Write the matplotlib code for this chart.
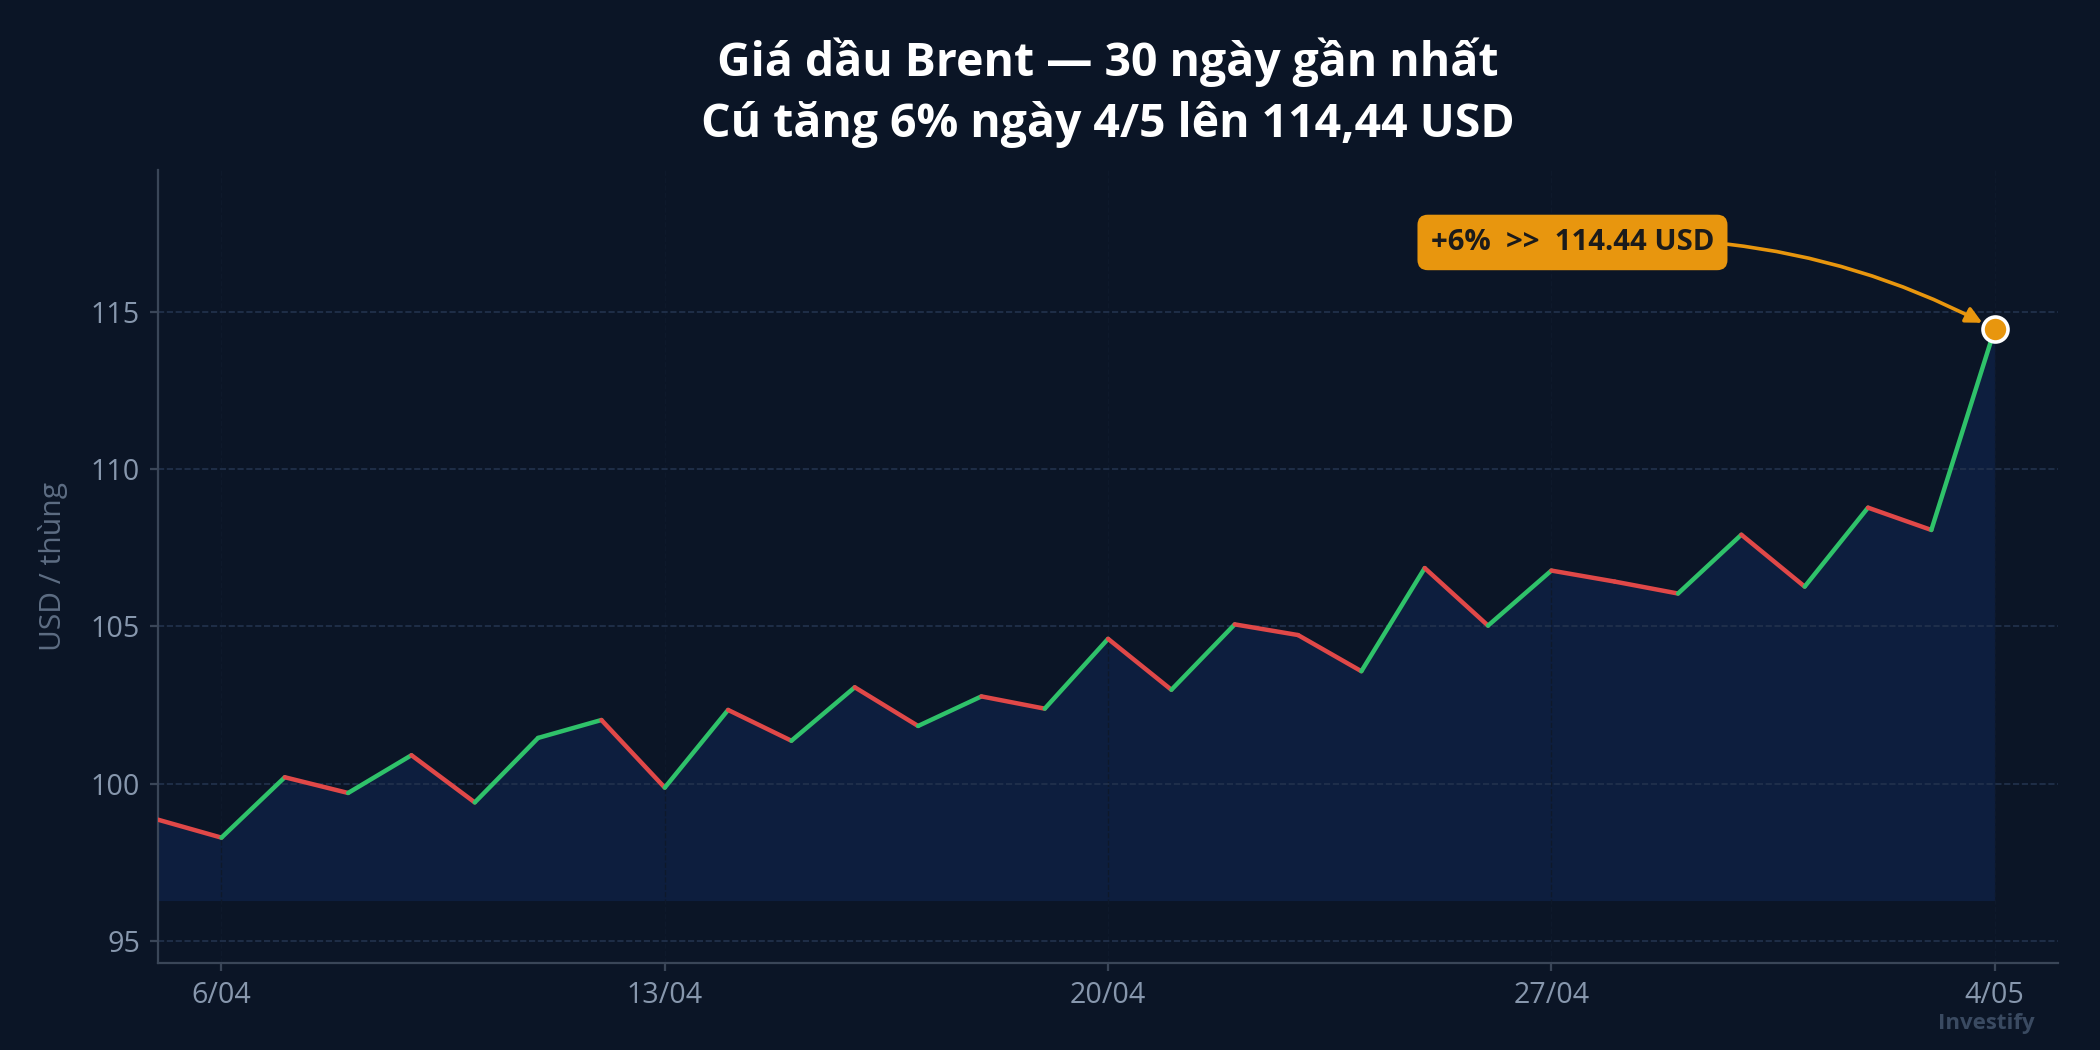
import numpy as np
import pandas as pd
import matplotlib
matplotlib.use("Agg")
import matplotlib.pyplot as plt

plt.rcParams['font.family'] = ['Open Sans', 'Noto Sans', 'DejaVu Sans']

# Brent close, 5/04 .. 4/05
dates = pd.date_range("2025-04-05", "2025-05-04", freq="D")
prices = [98.85, 98.28, 100.20, 99.70, 100.90, 99.40, 101.45, 102.02, 99.87, 102.34,
          101.36, 103.06, 101.83, 102.77, 102.38, 104.60, 102.98, 105.06, 104.72, 103.57,
          106.85, 105.02, 106.77, 106.42, 106.04, 107.91, 106.26, 108.77, 108.06, 114.44]

tick_dates = pd.to_datetime(["2025-04-06", "2025-04-13", "2025-04-20", "2025-04-27", "2025-05-04"])
tick_labels = ["6/04", "13/04", "20/04", "27/04", "4/05"]
y_ticks = [95, 100, 105, 110, 115]

title = "Giá dầu Brent — 30 ngày gần nhất\nCú tăng 6% ngày 4/5 lên 114,44 USD"
callout = "+6%  >>  114.44 USD"

BG = "#0b1526"
FILL = "#0d1e3e"
UP = "#2fc26a"
DOWN = "#e04848"
ORANGE = "#e8960e"
MUTED = "#8797ad"

fig = plt.figure(figsize=(10.5, 5.25), dpi=200, facecolor=BG)
ax = fig.add_axes([0.0753, 0.083, 0.9047, 0.755])
ax.set_facecolor(BG)

base = min(prices) - 2
ax.fill_between(dates, prices, base, color=FILL, zorder=1, linewidth=0)

for i in range(1, len(prices)):
    c = UP if prices[i] >= prices[i - 1] else DOWN
    ax.plot(dates[i - 1:i + 1], prices[i - 1:i + 1], color=c, lw=1.6,
            solid_capstyle='round', zorder=3)

ax.plot(dates[-1], prices[-1], 'o', ms=9, mfc=ORANGE, mec='white', mew=1.3, zorder=5)

ax.annotate(callout, xy=(dates[-1], prices[-1]),
            xytext=(dates[22] + pd.Timedelta(hours=8), 117.2),
            ha='center', va='center', fontsize=10.6, fontweight='bold', color='#1b1b1b',
            bbox=dict(boxstyle='round,pad=0.45,rounding_size=0.35', fc=ORANGE, ec='none'),
            arrowprops=dict(arrowstyle='-|>', color=ORANGE, lw=1.3, mutation_scale=12,
                            connectionstyle='arc3,rad=-0.15', shrinkA=0, shrinkB=5),
            zorder=6)

ax.set_xlim(dates[0], dates[-1] + pd.Timedelta(days=1))
ax.set_ylim(94.3, 119.5)
ax.set_xticks(tick_dates)
ax.set_xticklabels(tick_labels)
ax.set_yticks(y_ticks)

ax.grid(axis='y', color='#22324d', ls='--', lw=0.6, zorder=0)
ax.grid(axis='x', color='#0e192b', ls='--', lw=0.5, zorder=0)
ax.tick_params(colors='#3a4658', labelcolor=MUTED, labelsize=10.3, length=3, width=0.8)

for s in ['top', 'right']:
    ax.spines[s].set_visible(False)
for s in ['left', 'bottom']:
    ax.spines[s].set_color('#3a4658')
    ax.spines[s].set_linewidth(0.8)

ax.set_ylabel("USD / thùng", color='#5d6d83', fontsize=10.8, labelpad=8)
ax.set_title(title, color='white', fontsize=16.7, fontweight='bold', pad=12, linespacing=1.38)

fig.text(0.946, 0.025, "Investify", color='#3a4a61', fontsize=8, fontweight='bold',
         ha='center', va='center')

fig.savefig("out.png", dpi=200, facecolor=BG)
